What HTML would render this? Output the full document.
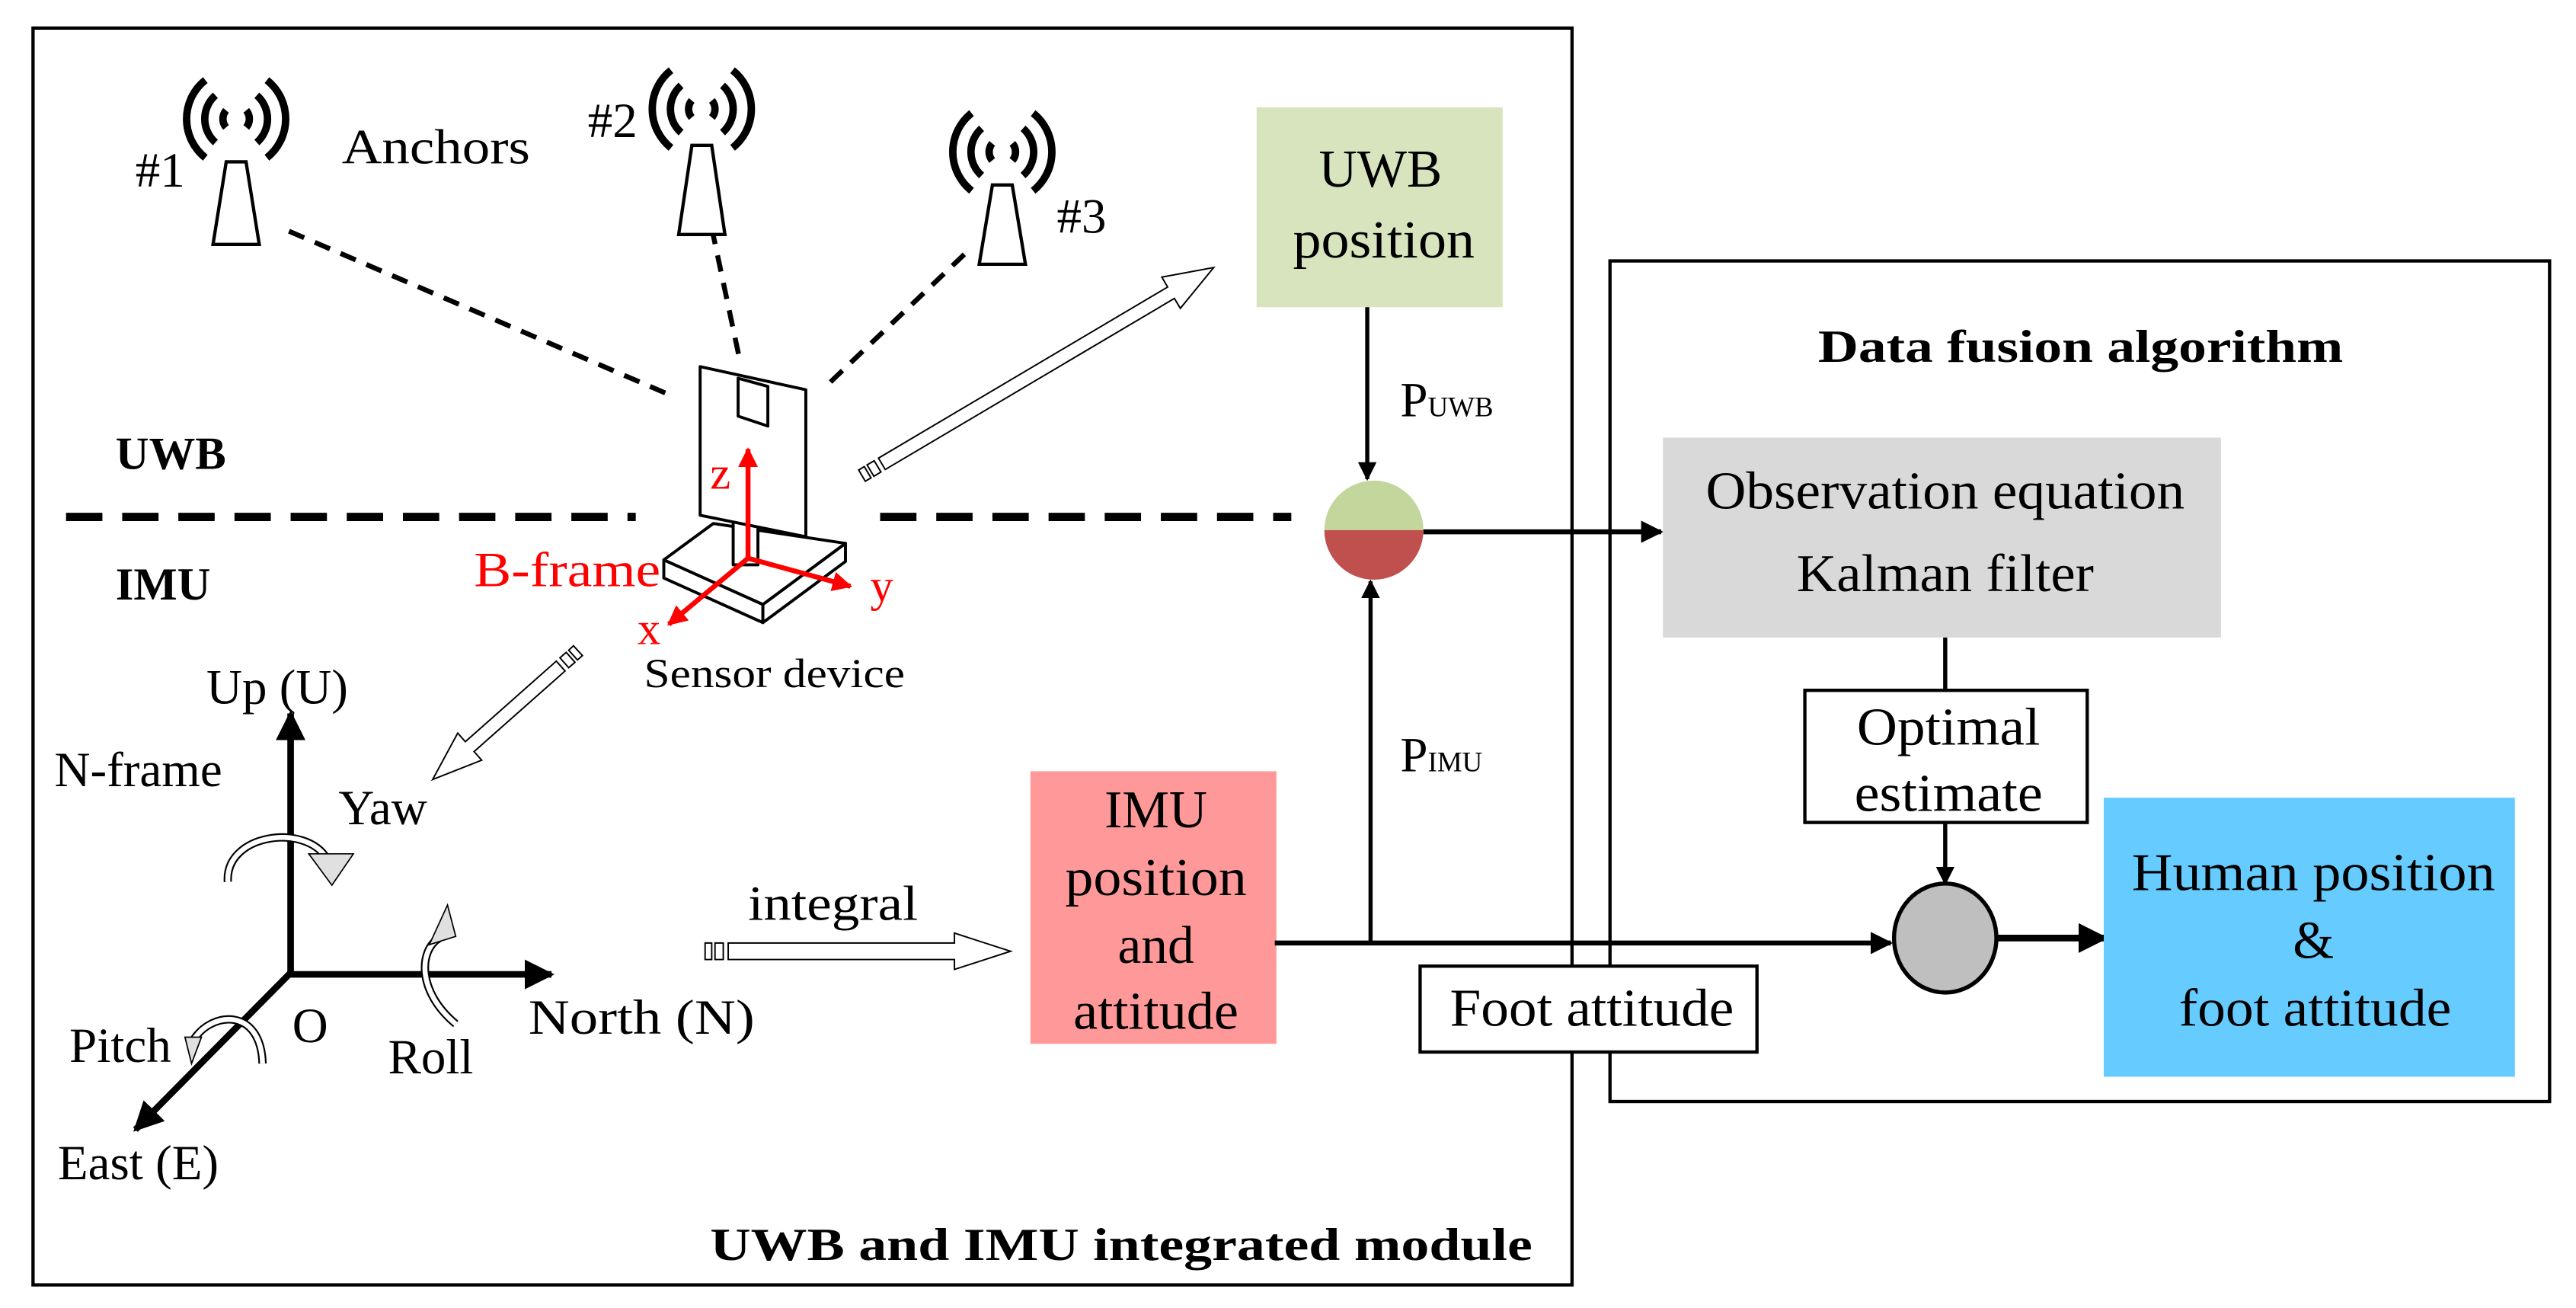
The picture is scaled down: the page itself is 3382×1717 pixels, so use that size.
<!DOCTYPE html>
<html><head><meta charset="utf-8"><style>
html,body{margin:0;padding:0;background:#fff}
svg{display:block}
text{font-family:"Liberation Serif",serif;fill:#000}
</style></head><body>
<svg id="s" width="3382" height="1717" viewBox="0 0 1560 792" preserveAspectRatio="none" xmlns="http://www.w3.org/2000/svg">
<defs>
<marker id="ah" viewBox="0 0 10 10" refX="9" refY="5" markerWidth="4.5" markerHeight="4.5" orient="auto" markerUnits="strokeWidth"><path d="M0,0 L10,5 L0,10 z" fill="#000"/></marker>
<marker id="ahr" viewBox="0 0 10 10" refX="9" refY="5" markerWidth="4" markerHeight="4" orient="auto" markerUnits="strokeWidth"><path d="M0,0 L10,5 L0,10 z" fill="#f00"/></marker>
</defs>
<rect x="20" y="17" width="932" height="761" fill="none" stroke="#000" stroke-width="2"/>
<rect x="975" y="158" width="569" height="509" fill="none" stroke="#000" stroke-width="2"/>

<rect x="761" y="65" width="149" height="121" fill="#d7e4bd"/>
<text x="836" y="113" font-size="32" text-anchor="middle">UWB</text>
<text x="838" y="156" font-size="32" text-anchor="middle" textLength="110" lengthAdjust="spacingAndGlyphs">position</text>
<line x1="828" y1="186" x2="828" y2="290" stroke="#000" stroke-width="2.5" marker-end="url(#ah)"/>
<text x="848" y="252" font-size="30">P<tspan font-size="17">UWB</tspan></text>

<path d="M802,321 A30,30 0 0 1 862,321 Z" fill="#c3d69b"/>
<path d="M802,321 A30,30 0 0 0 862,321 Z" fill="#c0504d"/>
<line x1="862" y1="322" x2="1006" y2="322" stroke="#000" stroke-width="3" marker-end="url(#ah)"/>

<rect x="1007" y="265" width="338" height="121" fill="#d9d9d9"/>
<text x="1178" y="308" font-size="32" text-anchor="middle" textLength="290" lengthAdjust="spacingAndGlyphs">Observation equation</text>
<text x="1178" y="358" font-size="32" text-anchor="middle" textLength="180" lengthAdjust="spacingAndGlyphs">Kalman filter</text>
<line x1="1178" y1="386" x2="1178" y2="418" stroke="#000" stroke-width="2.5"/>
<rect x="1093" y="418" width="171" height="80" fill="#fff" stroke="#000" stroke-width="2"/>
<text x="1180" y="451" font-size="32" text-anchor="middle" textLength="111" lengthAdjust="spacingAndGlyphs">Optimal</text>
<text x="1180" y="491" font-size="32" text-anchor="middle" textLength="114" lengthAdjust="spacingAndGlyphs">estimate</text>
<line x1="1178" y1="498" x2="1178" y2="535" stroke="#000" stroke-width="2.5" marker-end="url(#ah)"/>
<ellipse cx="1178" cy="568" rx="31" ry="33" fill="#bfbfbf" stroke="#000" stroke-width="2.5"/>
<line x1="1209" y1="568" x2="1275" y2="568" stroke="#000" stroke-width="4" marker-end="url(#ah)"/>

<rect x="1274" y="483" width="249" height="169" fill="#66ccff"/>
<text x="1401" y="539" font-size="32" text-anchor="middle" textLength="220" lengthAdjust="spacingAndGlyphs">Human position</text>
<text x="1401" y="580" font-size="32" text-anchor="middle">&amp;</text>
<text x="1402" y="621" font-size="32" text-anchor="middle" textLength="165" lengthAdjust="spacingAndGlyphs">foot attitude</text>
<text x="1260" y="219" font-size="28" font-weight="bold" text-anchor="middle" textLength="318" lengthAdjust="spacingAndGlyphs">Data fusion algorithm</text>

<rect x="624" y="467" width="149" height="165" fill="#ff9999"/>
<text x="700" y="501" font-size="32" text-anchor="middle">IMU</text>
<text x="700" y="542" font-size="32" text-anchor="middle" textLength="110" lengthAdjust="spacingAndGlyphs">position</text>
<text x="700" y="583" font-size="32" text-anchor="middle">and</text>
<text x="700" y="623" font-size="32" text-anchor="middle" textLength="100" lengthAdjust="spacingAndGlyphs">attitude</text>
<line x1="772" y1="571" x2="1145" y2="571" stroke="#000" stroke-width="3" marker-end="url(#ah)"/>
<line x1="830" y1="571" x2="830" y2="352" stroke="#000" stroke-width="2.5" marker-end="url(#ah)"/>
<text x="848" y="467" font-size="30">P<tspan font-size="17">IMU</tspan></text>
<rect x="860" y="585" width="204" height="52" fill="#fff" stroke="#000" stroke-width="2"/>
<text x="964" y="621" font-size="32" text-anchor="middle" textLength="172" lengthAdjust="spacingAndGlyphs">Foot attitude</text>

<line x1="40" y1="313" x2="385" y2="313" stroke="#000" stroke-width="5" stroke-dasharray="22,12"/>
<line x1="533" y1="313" x2="782" y2="313" stroke="#000" stroke-width="5" stroke-dasharray="22,12"/>
<text x="70" y="284" font-size="28" font-weight="bold">UWB</text>
<text x="70" y="363" font-size="28" font-weight="bold">IMU</text>

<g stroke="#000" stroke-width="3" stroke-dasharray="10,7" fill="none">
<line x1="175" y1="140" x2="403" y2="238"/>
<line x1="431" y1="138" x2="448" y2="218"/>
<line x1="584" y1="154" x2="498" y2="236"/>
</g>
<g id="ant"></g>
<text x="82" y="113" font-size="30">#1</text>
<text x="356" y="83" font-size="30">#2</text>
<text x="640" y="141" font-size="30">#3</text>
<text x="207" y="99" font-size="30" textLength="114" lengthAdjust="spacingAndGlyphs">Anchors</text>

<g stroke="#000" stroke-width="1.8" fill="#fff" stroke-linejoin="round">
<polygon points="402,350 462,377 462,366 402,339"/>
<polygon points="462,366 512,329 512,340 462,377"/>
<polygon points="432,317 512,329 462,366 402,339"/>
<rect x="444" y="312" width="15" height="30"/>
<polygon points="424,222 488,236 488,325 424,312"/>
<polygon points="447,229 465,234 465,258 447,252"/>
</g>
<g stroke="#f00" stroke-width="3">
<line x1="453" y1="338" x2="453" y2="272" marker-end="url(#ahr)"/>
<line x1="453" y1="338" x2="515" y2="355" marker-end="url(#ahr)"/>
<line x1="453" y1="338" x2="405" y2="378" marker-end="url(#ahr)"/>
</g>
<text x="430" y="296" font-size="28" style="fill:#f00">z</text>
<text x="527" y="364" font-size="28" style="fill:#f00">y</text>
<text x="386" y="390" font-size="28" style="fill:#f00">x</text>
<text x="287" y="355" font-size="30" style="fill:#f00" textLength="113" lengthAdjust="spacingAndGlyphs">B-frame</text>
<text x="390" y="416" font-size="25" textLength="158" lengthAdjust="spacingAndGlyphs">Sensor device</text>

<g id="hol" fill="#fff" stroke="#000" stroke-width="0.9"></g>
<text x="453" y="557" font-size="30" textLength="103" lengthAdjust="spacingAndGlyphs">integral</text>

<g stroke="#000" stroke-width="4">
<line x1="176" y1="590" x2="176" y2="432" marker-end="url(#ah)"/>
<line x1="174" y1="590" x2="334" y2="590" marker-end="url(#ah)"/>
<line x1="176" y1="589" x2="82" y2="684" marker-end="url(#ah)"/>
</g>
<!-- rotation arrows -->
<g fill="none" stroke-linecap="butt">
<path d="M138,534 C136,505 185,498 198,520" stroke="#000" stroke-width="5"/>
<path d="M138,534 C136,505 185,498 198,520" stroke="#fff" stroke-width="3"/>
<path d="M276,620 C252,600 254,575 266,568" stroke="#000" stroke-width="5"/>
<path d="M276,620 C252,600 254,575 266,568" stroke="#fff" stroke-width="3"/>
<path d="M159,644 C158,610 128,612 117,630" stroke="#000" stroke-width="5"/>
<path d="M159,644 C158,610 128,612 117,630" stroke="#fff" stroke-width="3"/>
</g>
<g fill="#e0e0e0" stroke="#000" stroke-width="0.8">
<polygon points="187,517 214,517 201,536"/>
<polygon points="260,572 271,548 276,567"/>
<polygon points="112,628 122,628 116,644"/>
</g>
<text x="125" y="426" font-size="30">Up (U)</text>
<text x="33" y="476" font-size="30">N-frame</text>
<text x="205" y="499" font-size="30">Yaw</text>
<text x="177" y="631" font-size="30">O</text>
<text x="235" y="650" font-size="30">Roll</text>
<text x="320" y="626" font-size="30" textLength="137" lengthAdjust="spacingAndGlyphs">North (N)</text>
<text x="42" y="643" font-size="30">Pitch</text>
<text x="35" y="714" font-size="30">East (E)</text>
<text x="928" y="763" font-size="28" font-weight="bold" text-anchor="end" textLength="498" lengthAdjust="spacingAndGlyphs">UWB and IMU integrated module</text>
</svg>
<script>
var NS="http://www.w3.org/2000/svg";
function el(p,t,a){var e=document.createElementNS(NS,t);for(var k in a)e.setAttribute(k,a[k]);p.appendChild(e);return e;}
var ant=document.getElementById("ant");
[[143,98,148,72],[425,88,142,66],[607,112,160,92]].forEach(function(a){
 var cx=a[0];
 el(ant,"polygon",{points:(cx-6)+","+a[1]+" "+(cx+6)+","+a[1]+" "+(cx+14)+","+a[2]+" "+(cx-14)+","+a[2],fill:"#fff",stroke:"#000","stroke-width":2});
 [[8,0.7],[19,0.85],[30,0.9]].forEach(function(q){
  var r=q[0],an=q[1],c=Math.cos(an)*r,s=Math.sin(an)*r,cy=a[3];
  el(ant,"path",{d:"M"+(cx-c)+","+(cy-s)+" A"+r+","+r+" 0 0 0 "+(cx-c)+","+(cy+s),fill:"none",stroke:"#000","stroke-width":4.5});
  el(ant,"path",{d:"M"+(cx+c)+","+(cy-s)+" A"+r+","+r+" 0 0 1 "+(cx+c)+","+(cy+s),fill:"none",stroke:"#000","stroke-width":4.5});
 });
});
var hol=document.getElementById("hol");
function hollow(x1,y1,x2,y2,w,hw,hl){
 var dx=x2-x1,dy=y2-y1,L=Math.hypot(dx,dy),ux=dx/L,uy=dy/L,nx=-uy,ny=ux;
 function P(t,o){return (x1+ux*t+nx*o).toFixed(1)+","+(y1+uy*t+ny*o).toFixed(1);}
 var s=14;
 el(hol,"polygon",{points:[P(s,-w/2),P(L-hl,-w/2),P(L-hl,-hw/2),P(L,0),P(L-hl,hw/2),P(L-hl,w/2),P(s,w/2)].join(" ")});
 el(hol,"polygon",{points:[P(0,-w/2),P(4,-w/2),P(4,w/2),P(0,w/2)].join(" ")});
 el(hol,"polygon",{points:[P(6,-w/2),P(11,-w/2),P(11,w/2),P(6,w/2)].join(" ")});
}
hollow(522,288,735,162,8,22,30);
hollow(350,394,262,472,8,22,30);
hollow(427,576,612,576,10,22,34);
</script>
</body></html>
